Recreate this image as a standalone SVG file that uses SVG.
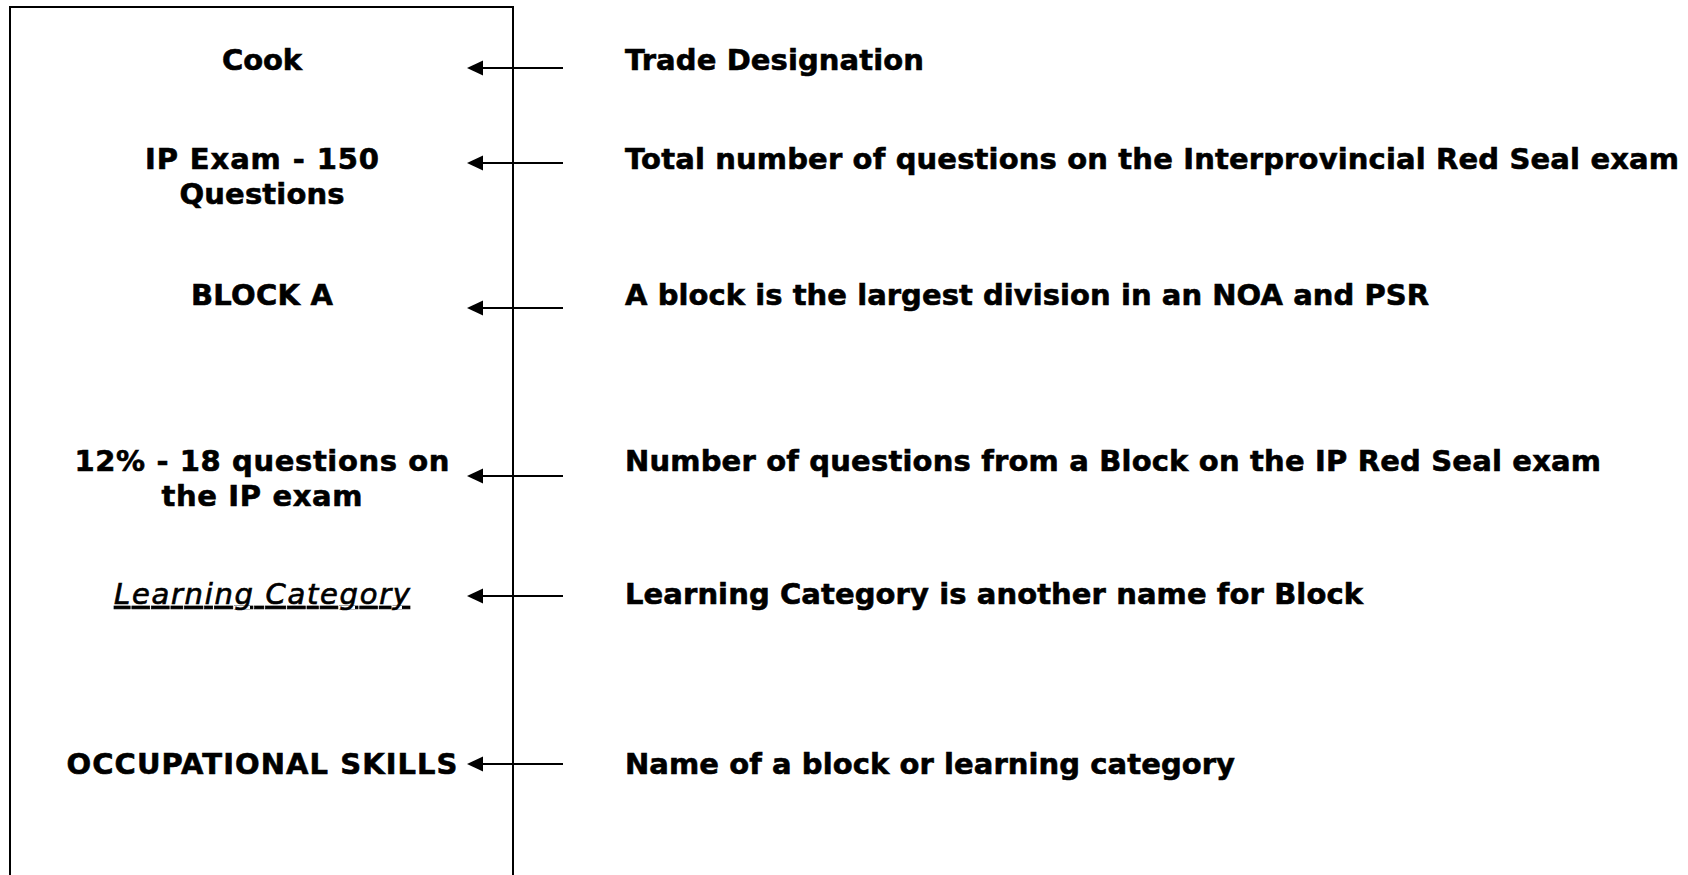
<svg xmlns="http://www.w3.org/2000/svg" width="1688" height="875" viewBox="0 0 1688 875">
<style>
text{font-family:"DejaVu Sans",Verdana,"Liberation Sans",sans-serif;font-size:29px;fill:#000}
.b{font-weight:bold;stroke:#000;stroke-width:0.6}
.l{text-anchor:middle}
.it{font-style:italic;font-weight:normal;text-decoration:underline;stroke:#000;stroke-width:0.7}
.c line{stroke:#000;stroke-width:2;marker-end:url(#ah)}
</style>
<defs>
<marker id="ah" markerUnits="userSpaceOnUse" markerWidth="18" markerHeight="18" viewBox="0 -9 17 18" refX="8" refY="0" orient="auto">
<path d="M0,-7.5 L16,0 L0,7.5 z" fill="#000"/>
</marker>
</defs>
<rect width="1688" height="875" fill="#fff"/>
<g id="frame"><rect x="10" y="7" width="503" height="900" fill="none" stroke="#000" stroke-width="2"/></g>
<g id="n-cook"><text class="b l" x="262" y="70" textLength="80">Cook</text></g>
<g id="n-ip"><text class="b l" x="262" y="169" textLength="234">IP Exam - 150</text><text class="b l" x="262" y="204" textLength="165">Questions</text></g>
<g id="n-block"><text class="b l" x="262" y="305" textLength="142">BLOCK A</text></g>
<g id="n-pct"><text class="b l" x="262" y="471" textLength="375">12% - 18 questions on</text><text class="b l" x="262" y="506" textLength="201">the IP exam</text></g>
<g id="n-lc"><text class="it l" x="262" y="604" textLength="296">Learning Category</text></g>
<g id="n-os"><text class="b l" x="262" y="774" textLength="391">OCCUPATIONAL SKILLS</text></g>
<g id="d-trade"><text class="b" x="625" y="70" textLength="299">Trade Designation</text></g>
<g id="d-total"><text class="b" x="625" y="169" textLength="1054">Total number of questions on the Interprovincial Red Seal exam</text></g>
<g id="d-block"><text class="b" x="625" y="305" textLength="804">A block is the largest division in an NOA and PSR</text></g>
<g id="d-num"><text class="b" x="625" y="471" textLength="976">Number of questions from a Block on the IP Red Seal exam</text></g>
<g id="d-lc"><text class="b" x="625" y="604" textLength="738">Learning Category is another name for Block</text></g>
<g id="d-name"><text class="b" x="625" y="774" textLength="610">Name of a block or learning category</text></g>
<g id="connectors" class="c">
<line x1="563" y1="68" x2="475" y2="68"/>
<line x1="563" y1="163" x2="475" y2="163"/>
<line x1="563" y1="308" x2="475" y2="308"/>
<line x1="563" y1="476" x2="475" y2="476"/>
<line x1="563" y1="596" x2="475" y2="596"/>
<line x1="563" y1="764" x2="475" y2="764"/>
</g>
</svg>
